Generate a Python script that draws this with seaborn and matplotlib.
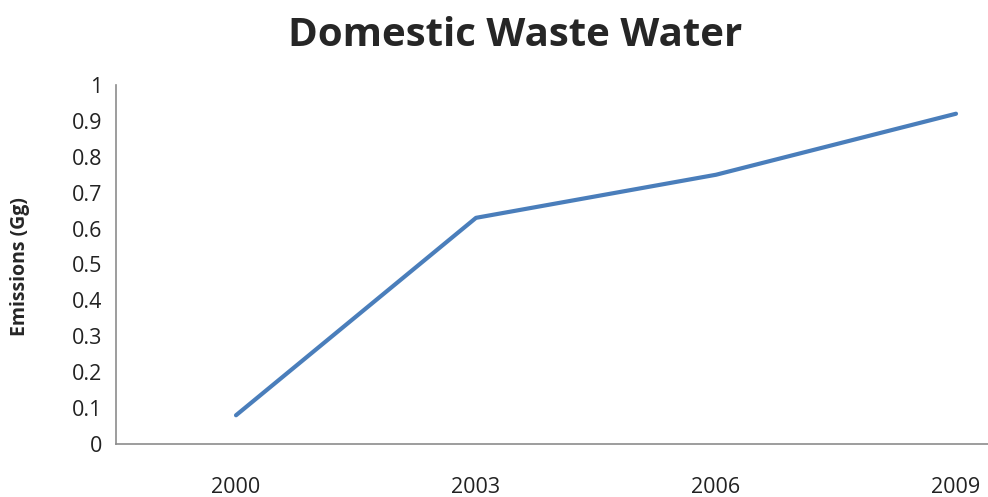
import matplotlib
matplotlib.use("Agg")
import matplotlib.pyplot as plt
import seaborn as sns
import pandas as pd

# values
years = ["2000", "2003", "2006", "2009"]
emissions = [0.08, 0.63, 0.75, 0.92]
y_ticks = [0, 0.1, 0.2, 0.3, 0.4, 0.5, 0.6, 0.7, 0.8, 0.9, 1]
y_tick_labels = ["0", "0.1", "0.2", "0.3", "0.4", "0.5", "0.6", "0.7", "0.8", "0.9", "1"]

df = pd.DataFrame({"Year": years, "Emissions": emissions})

sns.set_style("white")
plt.rcParams['font.family'] = ['Open Sans', 'DejaVu Sans']

fig = plt.figure(figsize=(9.88, 4.97), dpi=100)
# axis runs off the right edge, like the original
ax = fig.add_axes([116 / 988, 53 / 497, 960 / 988, 359 / 497])

sns.lineplot(data=df, x="Year", y="Emissions", ax=ax, color="#4A7EBB", linewidth=3.0,
             solid_capstyle="round")

ax.set_xlim(-0.5, 3.5)
ax.set_ylim(0, 1)
ax.set_yticks(y_ticks)
ax.set_yticklabels(y_tick_labels)
ax.tick_params(axis="both", length=0, labelsize=15.5, colors="#222222")
ax.tick_params(axis="x", pad=24)
ax.tick_params(axis="y", pad=10)

for side in ["top", "right"]:
    ax.spines[side].set_visible(False)
for side in ["left", "bottom"]:
    ax.spines[side].set_color("#8C8C8C")
    ax.spines[side].set_linewidth(1.2)

ax.set_xlabel("")
ax.set_ylabel("")
fig.text(20 / 988, 1 - 267 / 497, "Emissions (Gg)", rotation=90, ha="center", va="center",
         fontsize=14, fontweight="bold")
fig.text(515 / 988, 1 - 35 / 497, "Domestic Waste Water", ha="center", va="center",
         fontsize=29, fontweight="bold")

fig.savefig("out.png", dpi=100)
